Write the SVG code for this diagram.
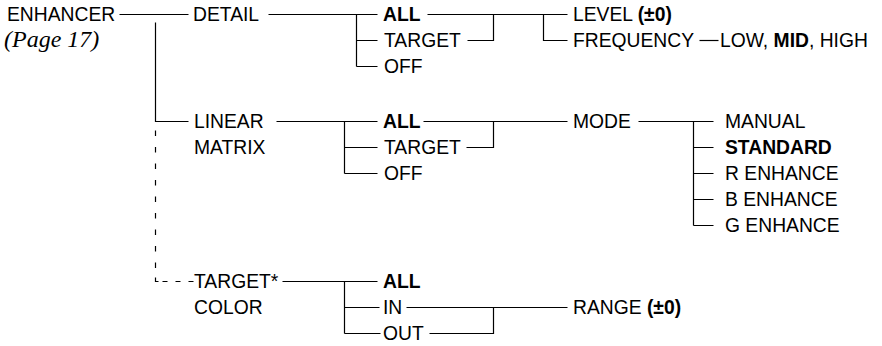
<svg xmlns="http://www.w3.org/2000/svg" width="882" height="346" viewBox="0 0 882 346">
<style>
text{font-family:"Liberation Sans",Arial,sans-serif;font-size:19.3px;fill:#000}
.b{font-weight:bold}
.it{font-family:"Liberation Serif","Times New Roman",serif;font-style:italic;font-size:24px}
#connectors path{fill:none;stroke:#000;stroke-width:1.2}
#connectors .dv{stroke-dasharray:5.5 11}
#connectors .dh{stroke-dasharray:5 8}
</style>
<rect width="882" height="346" fill="#fff"/>
<g id="connectors" transform="translate(0.5,0.5)">
<path d="M119,14H188"/>
<path d="M155,22V121H188"/>
<path class="dv" d="M155,130V276"/>
<path d="M155,277V281H158"/>
<path class="dh" d="M162,281H193"/>
<path d="M268,14H377M356,14V66M356,40H377M356,66H377"/>
<path d="M427,14H567M467,40H493V14M543,14V40H567"/>
<path d="M699,40H718"/>
<path d="M276,121H377M344,121V173M344,147H377M344,173H377"/>
<path d="M423,121H567M466,147H493V121"/>
<path d="M638,121H713M693,121V225M693,147H713M693,173H713M693,199H713M693,225H713"/>
<path d="M282,281H377M344,281V333M344,307H379M344,333H380"/>
<path d="M406,307H567M429,333H493V307"/>
</g>
<g id="enhancer"><text x="7" y="21">ENHANCER</text><text class="it" x="4" y="47">(Page 17)</text></g>
<g id="detail"><text x="193" y="21">DETAIL</text></g>
<g id="detail-all"><text class="b" x="383" y="21">ALL</text></g>
<g id="detail-target"><text x="384" y="47">TARGET</text></g>
<g id="detail-off"><text x="384" y="73">OFF</text></g>
<g id="level"><text x="573" y="21">LEVEL <tspan class="b">(±0)</tspan></text></g>
<g id="frequency"><text x="573" y="47">FREQUENCY</text></g>
<g id="freq-values"><text x="720" y="47">LOW, <tspan class="b">MID</tspan>, HIGH</text></g>
<g id="linear-matrix"><text x="194" y="128">LINEAR</text><text x="194" y="154">MATRIX</text></g>
<g id="lm-all"><text class="b" x="383" y="128">ALL</text></g>
<g id="lm-target"><text x="384" y="154">TARGET</text></g>
<g id="lm-off"><text x="384" y="180">OFF</text></g>
<g id="mode"><text x="573" y="128">MODE</text></g>
<g id="manual"><text x="725" y="128">MANUAL</text></g>
<g id="standard"><text class="b" x="725" y="154">STANDARD</text></g>
<g id="r-enhance"><text x="725" y="180">R ENHANCE</text></g>
<g id="b-enhance"><text x="725" y="206">B ENHANCE</text></g>
<g id="g-enhance"><text x="725" y="232">G ENHANCE</text></g>
<g id="target-color"><text x="194" y="288">TARGET*</text><text x="194" y="314">COLOR</text></g>
<g id="tc-all"><text class="b" x="383" y="288">ALL</text></g>
<g id="tc-in"><text x="383" y="314">IN</text></g>
<g id="tc-out"><text x="383" y="340">OUT</text></g>
<g id="range"><text x="573" y="314">RANGE <tspan class="b">(±0)</tspan></text></g>
</svg>
